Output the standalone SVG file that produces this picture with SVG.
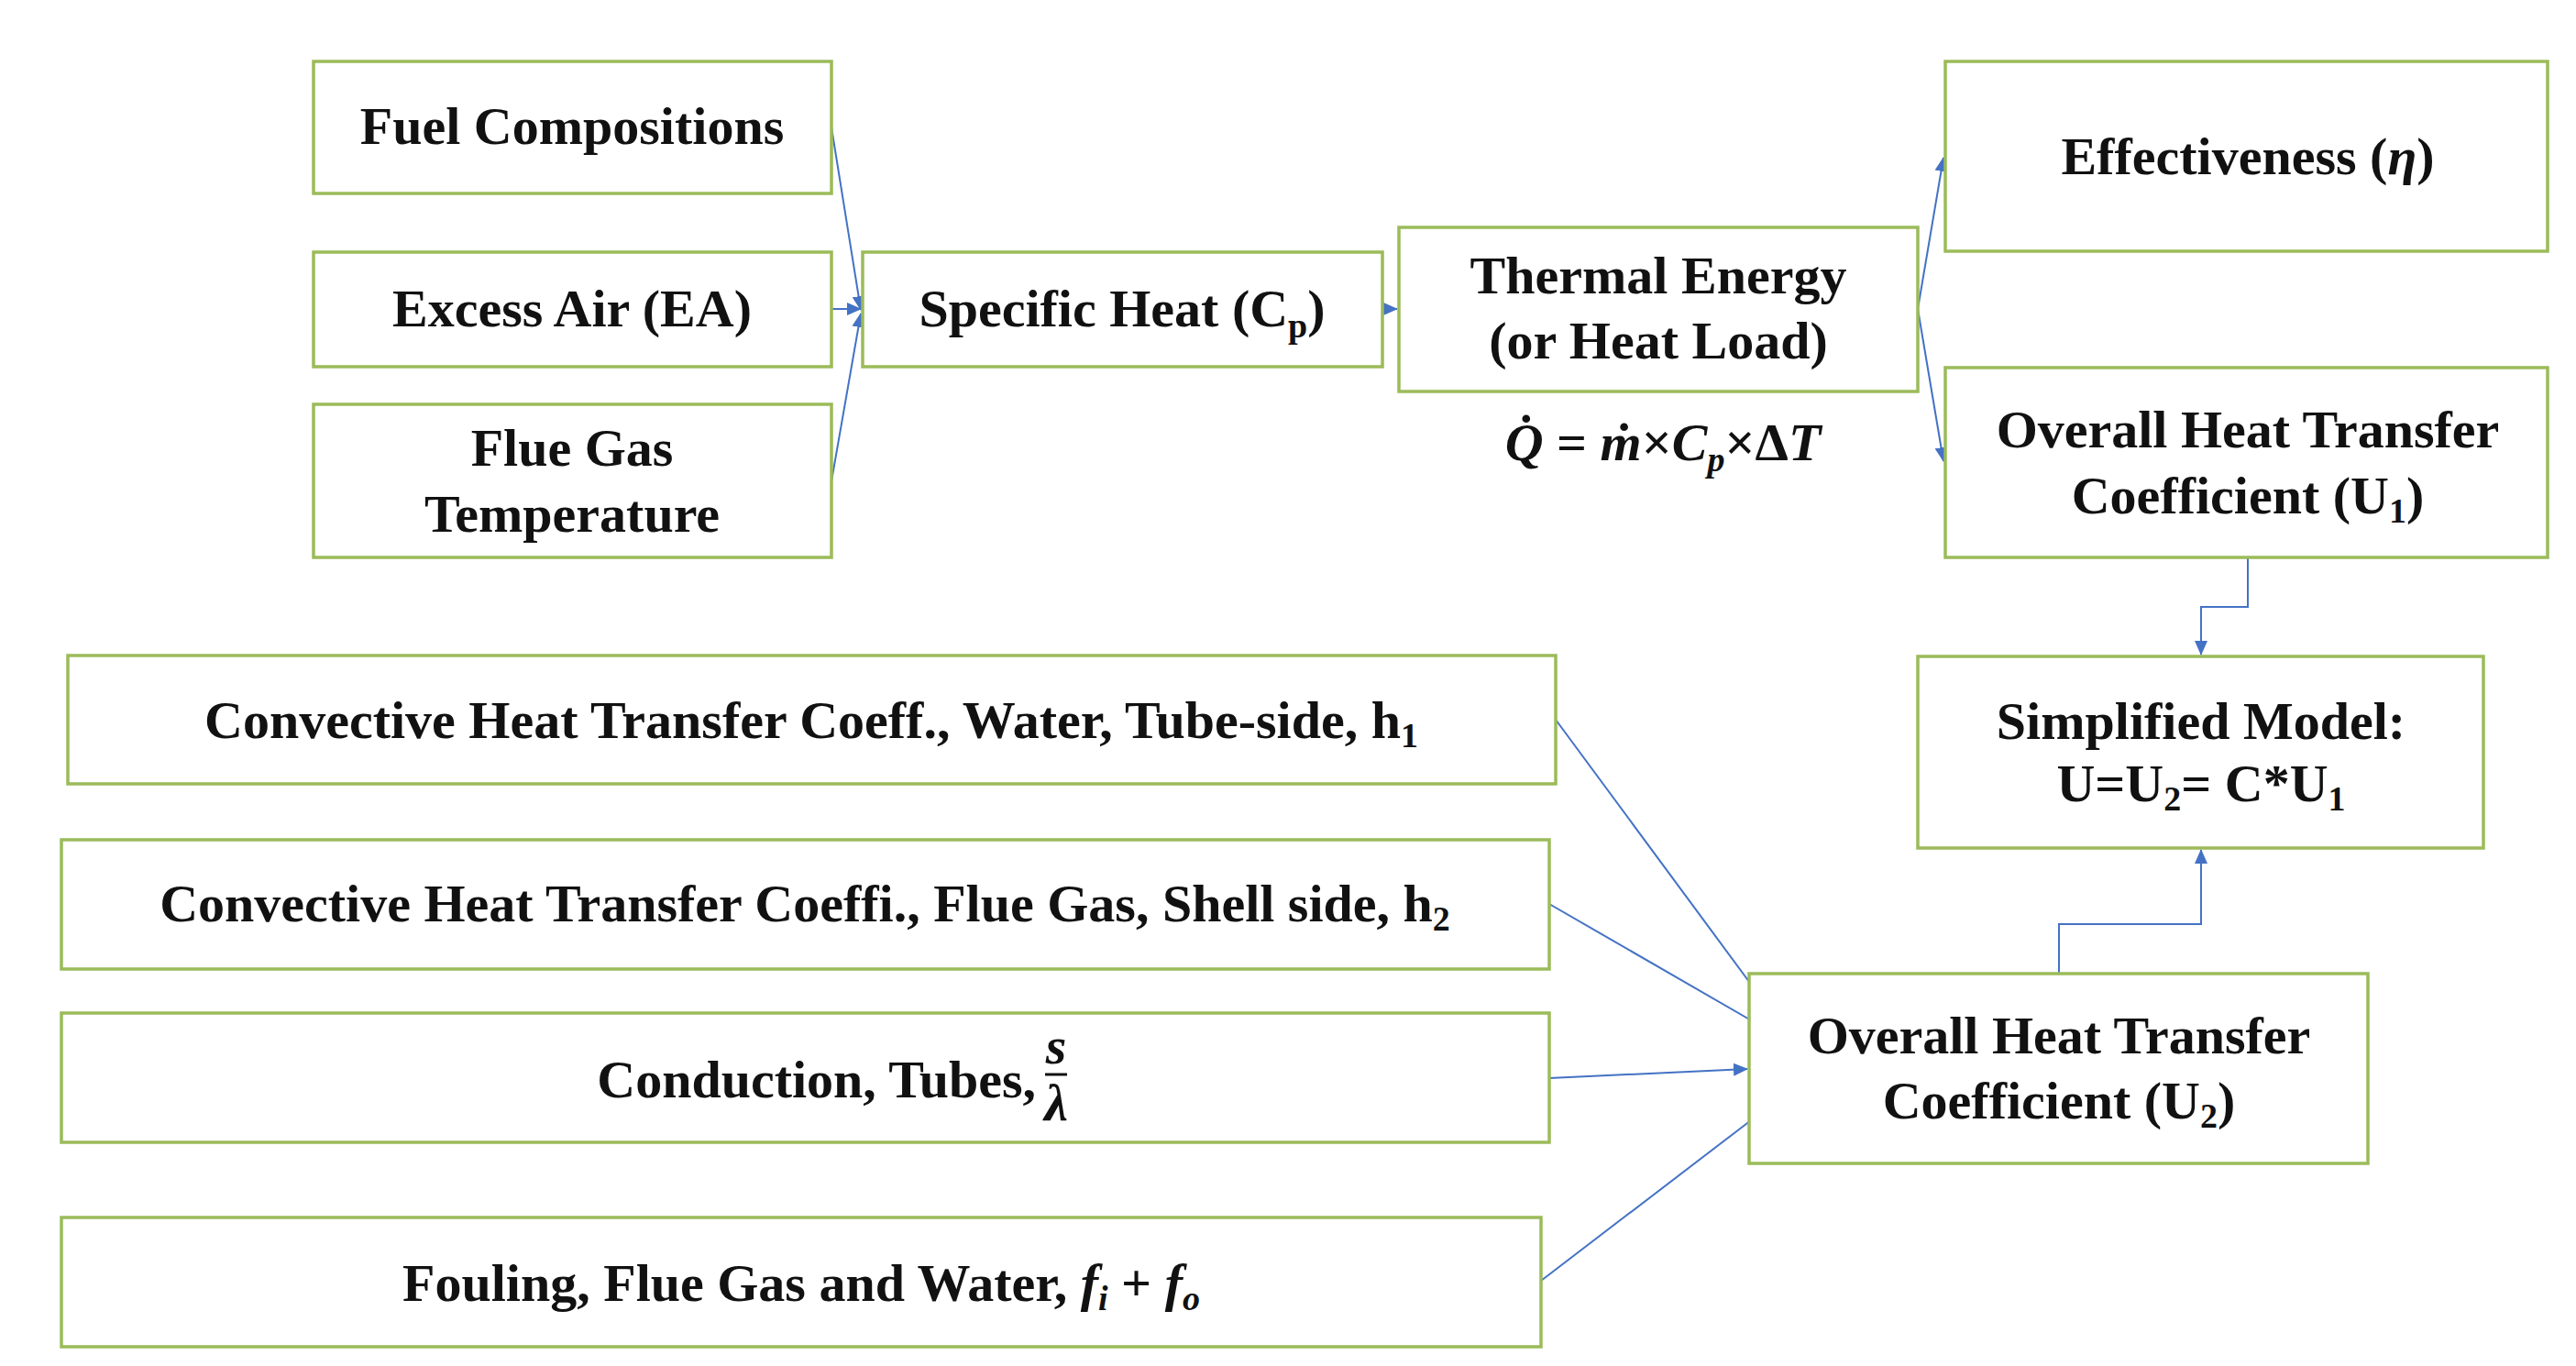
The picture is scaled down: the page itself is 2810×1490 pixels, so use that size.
<svg xmlns="http://www.w3.org/2000/svg" width="2810" height="1490" viewBox="0 0 2810 1490">
<style>
.b{fill:#fff;stroke:#9bbb59;stroke-width:3.5}
.t{font-family:"Liberation Serif",serif;font-weight:bold;font-size:58px;fill:#111;text-anchor:middle}
.m{font-style:italic}
.c{fill:none;stroke:#4472c4;stroke-width:2}
</style>
<defs><marker id="a" markerWidth="16" markerHeight="16" refX="15" refY="8" orient="auto" markerUnits="userSpaceOnUse" viewBox="0 0 16 16"><path d="M0,1L16,8L0,15z" fill="#4472c4"/></marker></defs>
<rect width="2810" height="1490" fill="#fff"/>
<g id="connectors">
<path class="c" d="M907,139L939,338" marker-end="url(#a)"/>
<path class="c" d="M907,337L939,337" marker-end="url(#a)"/>
<path class="c" d="M907,525L939,342" marker-end="url(#a)"/>
<path class="c" d="M1508,337L1524,337" marker-end="url(#a)"/>
<path class="c" d="M2092,337L2120,172" marker-end="url(#a)"/>
<path class="c" d="M2092,337L2120,503" marker-end="url(#a)"/>
<path class="c" d="M2452,608V662H2401V714" marker-end="url(#a)"/>
<path class="c" d="M2246,1062V1008H2401V927" marker-end="url(#a)"/>
<path class="c" d="M1697,785L1931,1102" marker-end="url(#a)"/>
<path class="c" d="M1690,986L1931,1125" marker-end="url(#a)"/>
<path class="c" d="M1690,1176L1906,1166" marker-end="url(#a)"/>
<path class="c" d="M1681,1397L1931,1206" marker-end="url(#a)"/>
</g>
<g id="fuel"><rect class="b" x="342" y="67" width="565" height="144"/><text class="t" x="624" y="157">Fuel Compositions</text></g>
<g id="excess"><rect class="b" x="342" y="275" width="565" height="125"/><text class="t" x="624" y="356">Excess Air (EA)</text></g>
<g id="flue"><rect class="b" x="342" y="441" width="565" height="167"/><text class="t" x="624" y="508">Flue Gas</text><text class="t" x="624" y="580">Temperature</text></g>
<g id="cp"><rect class="b" x="941" y="275" width="567" height="125"/><text class="t" x="1224" y="356">Specific Heat (C<tspan font-size="38" dy="12">p</tspan><tspan dy="-12">)</tspan></text></g>
<g id="thermal"><rect class="b" x="1526" y="248" width="566" height="179"/><text class="t" x="1809" y="320">Thermal Energy</text><text class="t" x="1809" y="391">(or Heat Load)</text></g>
<g id="formula"><text class="t" x="1814" y="502"><tspan class="m">Q̇</tspan> = <tspan class="m">ṁ</tspan>×<tspan class="m">C</tspan><tspan class="m" font-size="38" dy="12">p</tspan><tspan dy="-12">×Δ</tspan><tspan class="m">T</tspan></text></g>
<g id="eff"><rect class="b" x="2122" y="67" width="657" height="207"/><text class="t" x="2452" y="190">Effectiveness (<tspan class="m">η</tspan>)</text></g>
<g id="u1"><rect class="b" x="2122" y="401" width="657" height="207"/><text class="t" x="2452" y="488">Overall Heat Transfer</text><text class="t" x="2452" y="560">Coefficient (U<tspan font-size="38" dy="10">1</tspan><tspan dy="-10">)</tspan></text></g>
<g id="simp"><rect class="b" x="2092" y="716" width="617" height="209"/><text class="t" x="2401" y="806">Simplified Model:</text><text class="t" x="2401" y="874">U=U<tspan font-size="38" dy="10">2</tspan><tspan dy="-10">= C*U</tspan><tspan font-size="38" dy="10">1</tspan></text></g>
<g id="conv1"><rect class="b" x="74" y="715" width="1623" height="140"/><text class="t" x="885" y="805">Convective Heat Transfer Coeff., Water, Tube-side, h<tspan font-size="38" dy="10">1</tspan></text></g>
<g id="conv2"><rect class="b" x="67" y="916" width="1623" height="141"/><text class="t" x="878" y="1005">Convective Heat Transfer Coeffi., Flue Gas, Shell side, h<tspan font-size="38" dy="10">2</tspan></text></g>
<g id="cond"><rect class="b" x="67" y="1105" width="1623" height="141"/><text class="t" x="1130" y="1197" text-anchor="end" style="text-anchor:end">Conduction, Tubes,</text><text class="t m" x="1152" y="1160" font-size="40">s</text><line x1="1140" y1="1172" x2="1164" y2="1172" stroke="#111" stroke-width="3"/><text class="t m" x="1152" y="1222" font-size="40">λ</text></g>
<g id="foul"><rect class="b" x="67" y="1328" width="1614" height="141"/><text class="t" x="874" y="1419">Fouling, Flue Gas and Water, <tspan class="m">f</tspan><tspan class="m" font-size="38" dy="10">i</tspan><tspan dy="-10"> + </tspan><tspan class="m">f</tspan><tspan class="m" font-size="38" dy="10">o</tspan></text></g>
<g id="u2"><rect class="b" x="1908" y="1062" width="675" height="207"/><text class="t" x="2246" y="1149">Overall Heat Transfer</text><text class="t" x="2246" y="1220">Coefficient (U<tspan font-size="38" dy="10">2</tspan><tspan dy="-10">)</tspan></text></g>
</svg>
